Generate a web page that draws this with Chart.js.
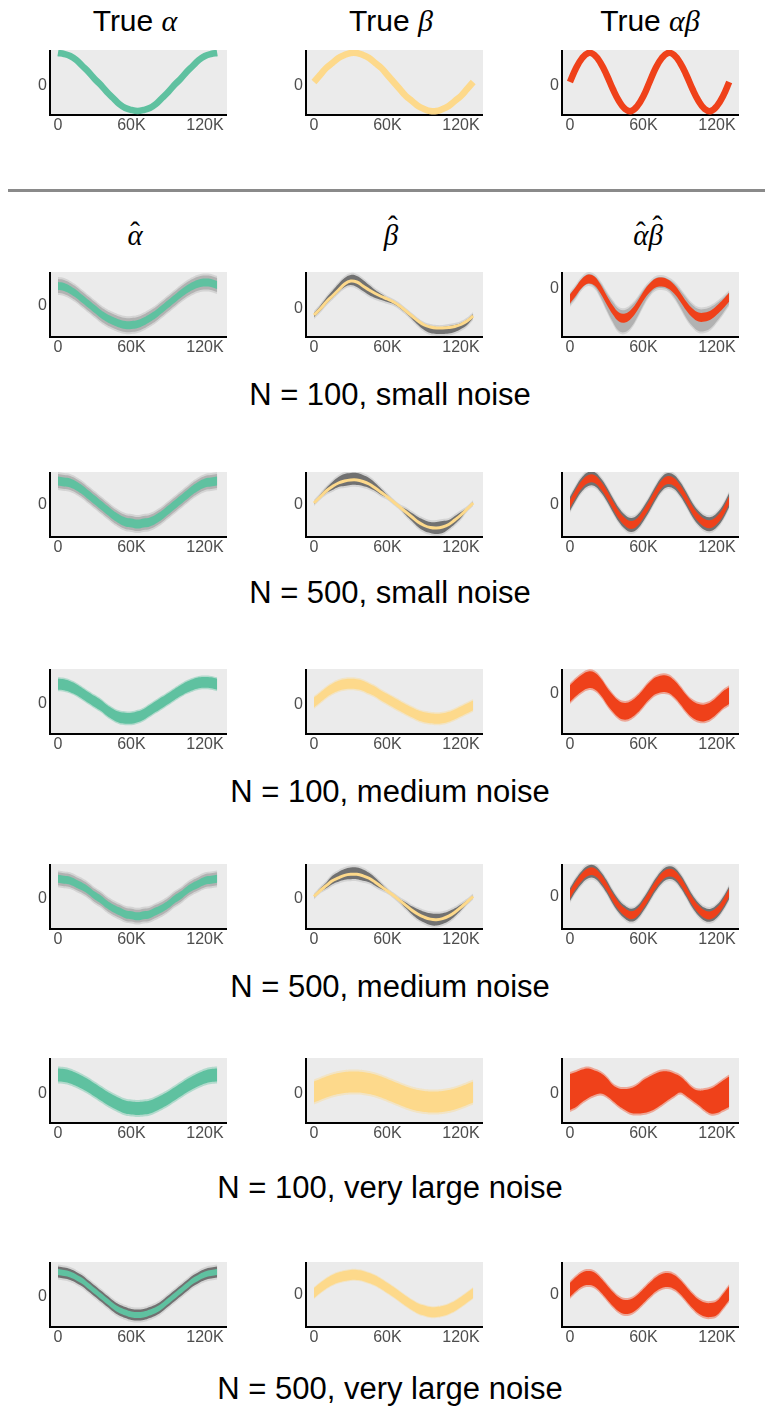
<!DOCTYPE html>
<html>
<head>
<meta charset="utf-8">
<script src="https://cdn.jsdelivr.net/npm/chart.js@4.4.1/dist/chart.umd.min.js"></script>
<style>
  body { margin: 0; background: #fff; width: 765px; height: 1407px; position: relative; overflow: hidden;
         font-family: "Liberation Sans", Arial, sans-serif; }
  canvas { position: absolute; }
  .t { position: absolute; transform: translateX(-50%); white-space: nowrap; color: #000; line-height: 30px; }
  .title { font-size: 30px; top: 6px; }
  .cap { font-size: 31px; }
  .m { font-family: "Liberation Serif", serif; font-style: italic; }
  .hat { font-family: "Liberation Serif", serif; font-style: italic; font-size: 29px; top: 221px; line-height: 28px; }
  .h { position: relative; display: inline-block; }
  .h::before { content: "\02C6"; position: absolute; left: 0; right: 0; text-align: center; top: -0.12em; font-style: normal; }
  .h.hb::before { top: -0.32em; left: 0.12em; }
  .sep { position: absolute; left: 8px; top: 189px; width: 757px; height: 3px; background: #8a8a8a; }
</style>
</head>
<body>
<div class="sep"></div>
<script>
// x positions of the samples (every 5K)
var xs = [0,5000,10000,15000,20000,25000,30000,35000,40000,45000,50000,55000,60000,65000,
          70000,75000,80000,85000,90000,95000,100000,105000,110000,115000,120000,125000,130000];
var xTicks = [0, 60000, 120000];
var xTickLabels = ['0', '60K', '120K'];

var columnTitles = ['True <span class="m">α</span>', 'True <span class="m">β</span>', 'True <span class="m">αβ</span>'];
var hatTitles = ['<span class="h">α</span>', '<span class="h hb">β</span>', '<span class="h">α</span><span class="h hb">β</span>'];
var captions = ['N = 100, small noise', 'N = 500, small noise', 'N = 100, medium noise',
                'N = 500, medium noise', 'N = 100, very large noise', 'N = 500, very large noise'];

// true curves
var trueAlpha = [31,30,28,24,18,12,5,-1,-8,-14,-20,-24,-26,-27,-26,-24,-20,-14,-8,-1,5,12,18,24,28,30,31];
var trueBeta = [2,9,16,21,26,29,31,31,29,26,21,16,9,2,-5,-12,-17,-22,-25,-27,-27,-25,-22,-17,-12,-5,2];
var trueAlphaBeta = [2,16,26,31,29,21,9,-5,-17,-25,-27,-22,-12,2,16,26,31,29,21,9,-5,-17,-25,-27,-22,-12,2];

// N = 100, small noise
var a100s = [18,17,14,10,5,0,-5,-10,-14,-17,-19.5,-21,-21,-20,-17.5,-14,-10,-5,0,5,10,14.5,18,20.5,21.5,21,19];
var b100s = [-8,-2,5,11,17,23,26,25,21,17,13.5,10.5,8,5,1,-4,-9,-14,-18,-20,-21,-21,-20.5,-19.5,-17.5,-14,-9];
var b100sHi = [-6,1,9,16,23,29,32,31,27,22,17,13,9,6,2,-3,-8,-13,-17,-19,-20,-20,-19,-18,-16,-12.5,-7];
var b100sLo = [-10,-4,3,9,15,20,22,20,16,12,9,7,5,3,-1,-6,-12,-18,-23,-26,-27,-27,-26.5,-25,-22,-18,-11];
var ab100s = [-12,-4,4,8,6,-2,-13,-23,-30,-31,-27,-19,-9,-1,4,5,3,-2,-10,-19,-26,-30,-30,-28,-23,-17,-10];
var ab100sHi = [-7,1,9,13,11,4,-6,-15,-22,-23,-19,-12,-3,4,9,10,8,4,-3,-11,-18,-22,-22,-20,-16,-11,-5];
var ab100sLo = [-18,-10,-1,3,0,-10,-23,-35,-44,-45,-40,-30,-18,-8,-2,-1,-3,-10,-20,-31,-39,-44,-44,-41,-34,-26,-17];

// N = 500, small noise
var a500s = [22,21,20,17,13,8,3,-2,-7,-12,-16,-19,-20,-21,-20,-19,-16,-12,-7,-2,3,8,13,17,20,21,22];
var b500s = [0,6,12,16.5,20,22,23,23,21.5,19,15,10.5,6,1,-4,-9,-14,-19,-22.5,-24.5,-25,-24,-21.5,-17,-12,-6,0];
var b500sHi = [1,8,15,21,26,29,30,30,28,25,20,14,8,2,-3,-6,-10,-14,-17,-19,-19,-18,-17,-13,-9,-5,1];
var b500sLo = [-1,5,10,13,16,17,18,18,17,15,12,8,5,0,-5,-12,-18,-24,-28,-30,-31,-30,-26,-21,-15,-7,-1];
var ab500s = [-1,10,19,24,24,18,9,-2,-12,-19,-22,-19,-11,-1,10,19,23,21,14,4,-7,-15,-20,-21,-17,-9,3];

// N = 100, medium noise
var a100m = [17.5,17,15,12,8,4,0,-4,-9,-13,-16,-17,-17,-15.5,-13,-9,-5,-1,3,7,11,14.5,17,19,19.5,19,17.5];
var b100m = [0,5,10,14,17,18.5,19,18.5,17,14,11,7,3.5,0,-3.5,-7,-10,-13,-15,-16,-16.5,-16,-14.5,-12,-9,-6,-3];
var ab100m = [-2,4,9,12,11,5,-4,-12,-18,-20,-18,-13,-6,1,6,8,7.5,3,-4,-12,-18,-21,-21.5,-19,-14,-8,-4];

// N = 500, medium noise
var a500m = [18,17,16,13,10,6,1,-3,-8,-12,-15,-18,-19,-20,-19,-18,-15,-12,-8,-3,1,6,10,13,16,17,18];
var b500m = [0,6,11,16,19,21.5,22.5,22.5,21,18.5,14.5,10,5.5,1,-4,-9,-14,-18,-21,-23,-23.5,-22.5,-20,-16,-11,-5.5,0];
var b500mHi = [1,8,14,21,25,28,29.5,29.5,27.5,24,19,13,7,2,-2.5,-6,-10,-13,-15.5,-17,-17.5,-17,-15,-12,-8,-4,1];
var b500mLo = [-1,5,8.5,12.5,15,17,17.5,17.5,16,14.5,11,7.5,4.5,0,-5.5,-12,-18,-23,-26.5,-29,-29.5,-28,-25,-20,-14,-7,-1];
var ab500m = [0,10,18,23,23,17,8,-3,-12,-18,-21,-18,-10,0,10,18,22,21,14,4,-7,-15,-20,-21,-17,-9,2];

// N = 100, very large noise
var a100l = [17,16.5,15,12.5,9.5,6,2,-2,-6,-9.5,-12.5,-15,-16,-16.5,-16,-15,-12.5,-9.5,-6,-2,2,6,9.5,12.5,15,16.5,17];
var b100l = [0,2.5,5,7,8.5,9.5,10,10,9.5,8.5,7,5,2.5,0,-2.5,-5,-7,-8.5,-9.5,-10,-10,-9.5,-8.5,-7,-5,-2.5,0];
var ab100lHi = [18,20,22.5,23.5,21.5,19,14,7,3.5,3,4,7,12,15.5,18.5,20.5,20.5,18.5,15.5,10,4,1.5,2,3.5,7,11.5,15.5];
var ab100lLo = [-18,-15,-10,-6,-3,-1.5,-4,-9,-14,-18,-21,-21.5,-21,-19.5,-16.5,-12.5,-8,-4,-0.5,-4,-8.5,-13,-18,-21.5,-21,-18,-15];

// N = 500, very large noise
var a500l = [23,22,20.5,17.5,14,9,4,-1,-6,-11,-15,-17.5,-19.5,-20,-19.5,-17.5,-15,-11,-6,-1,4,9,14,17.5,20.5,22,23];
var b500l = [0,5,9.5,13,15.5,17,18,18,17,15,12.5,9,5,1,-3.5,-8,-12,-15.5,-17.5,-19,-19,-18,-16,-13,-9,-4.5,0];
var ab500l = [3,9,13.5,15,13.5,8,1,-6,-11.5,-14,-13,-9,-3,3,8.5,12,13,11,6,-1,-8,-13.5,-16.5,-17,-15,-8,0];

var GREEN = '#5fc1a0', YELLOW = '#fdd98b', RED = '#ef411a';
var DARK = 'rgba(95,95,95,0.85)', LIGHT = 'rgba(150,150,150,0.55)';

var colLeft = [50, 306, 562];
var plotW = 177, plotH = 65, yW = 24, xH = 24;

var panels = [
  {col:0, top:50, yMin:-31, yMax:34, color:GREEN, line:trueAlpha, lw:6.5},
  {col:1, top:50, yMin:-31, yMax:34, color:YELLOW, line:trueBeta, lw:6.5},
  {col:2, top:50, yMin:-31, yMax:34, color:RED, line:trueAlphaBeta, lw:6.5},

  {col:0, top:272, yMin:-33, yMax:32, color:GREEN, mid:a100s, half:4, grayW:7, gray:LIGHT},
  {col:1, top:272, yMin:-30, yMax:35, color:YELLOW, line:b100s, lw:3, grayHi:b100sHi, grayLo:b100sLo, gray:DARK},
  {col:2, top:272, yMin:-50, yMax:15, color:RED, mid:ab100s, half:4.5, grayHi:ab100sHi, grayLo:ab100sLo, gray:LIGHT},

  {col:0, top:472, yMin:-34, yMax:31, color:GREEN, mid:a500s, half:4.5, grayW:7, gray:LIGHT},
  {col:1, top:472, yMin:-34, yMax:31, color:YELLOW, line:b500s, lw:3, grayHi:b500sHi, grayLo:b500sLo, gray:DARK},
  {col:2, top:472, yMin:-34, yMax:31, color:RED, mid:ab500s, half:4, grayW:7, gray:DARK},

  {col:0, top:669, yMin:-33, yMax:33, color:GREEN, mid:a100m, half:5.5, fuzz:1.5},
  {col:1, top:669, yMin:-32, yMax:34, color:YELLOW, mid:b100m, half:5, fuzz:1.5},
  {col:2, top:669, yMin:-43, yMax:23, color:RED, mid:ab100m, half:8.5, fuzz:2},

  {col:0, top:864, yMin:-33, yMax:33, color:GREEN, mid:a500m, half:4, grayW:6.5, gray:LIGHT},
  {col:1, top:864, yMin:-33, yMax:33, color:YELLOW, line:b500m, lw:3, grayHi:b500mHi, grayLo:b500mLo, gray:DARK},
  {col:2, top:864, yMin:-35, yMax:31, color:RED, mid:ab500m, half:4, grayW:6.5, gray:DARK},

  {col:0, top:1058, yMin:-31, yMax:34, color:GREEN, mid:a100l, half:6.5, fuzz:2},
  {col:1, top:1058, yMin:-31, yMax:34, color:YELLOW, mid:b100l, half:10.5, fuzz:2},
  {col:2, top:1058, yMin:-31, yMax:34, color:RED, lo:ab100lLo, hi:ab100lHi, fuzz:2},

  {col:0, top:1262, yMin:-32, yMax:33, color:GREEN, mid:a500l, half:3, grayW:5.5, gray:DARK},
  {col:1, top:1262, yMin:-34, yMax:31, color:YELLOW, mid:b500l, half:5, fuzz:1},
  {col:2, top:1262, yMin:-34, yMax:31, color:RED, mid:ab500l, half:7, fuzz:2}
];

function pts(arr) {
  return arr.map(function (v, i) { return {x: xs[i], y: v}; });
}
function shift(arr, d) {
  return arr.map(function (v) { return v + d; });
}
function bandSets(lo, hi, color) {
  return [
    {data: pts(lo), borderWidth: 0, borderColor: 'transparent', pointRadius: 0, fill: false, tension: 0.4},
    {data: pts(hi), borderWidth: 0, borderColor: 'transparent', pointRadius: 0, fill: '-1', backgroundColor: color, tension: 0.4}
  ];
}
function fade(hex, a) {
  var n = parseInt(hex.slice(1), 16);
  return 'rgba(' + (n >> 16) + ',' + ((n >> 8) & 255) + ',' + (n & 255) + ',' + a + ')';
}

// grey panel background
var panelBg = {
  id: 'panelBg',
  beforeDraw: function (chart) {
    var a = chart.chartArea, ctx = chart.ctx;
    ctx.save();
    ctx.fillStyle = '#ebebeb';
    ctx.fillRect(a.left, a.top, a.right - a.left, a.bottom - a.top);
    ctx.restore();
  }
};

function noPad(s) {
  s.paddingTop = 0; s.paddingBottom = 0; s.paddingLeft = 0; s.paddingRight = 0;
}

function makeChart(p) {
  var cv = document.createElement('canvas');
  cv.width = plotW + yW;
  cv.height = plotH + xH;
  cv.style.left = (colLeft[p.col] - yW) + 'px';
  cv.style.top = p.top + 'px';
  document.body.appendChild(cv);

  // first dataset is drawn on top
  var sets = [];
  if (p.line) {
    sets.push({data: pts(p.line), borderColor: p.color, borderWidth: p.lw, pointRadius: 0, fill: false, tension: 0.4});
  }
  var lo = p.lo, hi = p.hi;
  if (p.mid) { lo = shift(p.mid, -p.half); hi = shift(p.mid, p.half); }
  if (lo) {
    sets = sets.concat(bandSets(lo, hi, p.color));
    if (p.fuzz) sets = sets.concat(bandSets(shift(lo, -p.fuzz), shift(hi, p.fuzz), fade(p.color, 0.4)));
  }
  var gLo = p.grayLo, gHi = p.grayHi;
  if (p.grayW) { gLo = shift(p.mid, -p.grayW); gHi = shift(p.mid, p.grayW); }
  if (gLo) {
    sets = sets.concat(bandSets(gLo, gHi, p.gray));
    sets = sets.concat(bandSets(shift(gLo, -2), shift(gHi, 2), 'rgba(170,170,170,0.35)'));
  }

  var tickFont = {family: 'Liberation Sans', size: 16};
  new Chart(cv, {
    type: 'line',
    data: {datasets: sets},
    options: {
      responsive: false,
      animation: false,
      devicePixelRatio: 1,
      layout: {padding: 0},
      plugins: {legend: {display: false}, tooltip: {enabled: false}},
      scales: {
        x: {
          type: 'linear', min: -6500, max: 138000,
          grid: {display: false, drawTicks: false},
          border: {display: true, color: '#000', width: 2},
          afterBuildTicks: function (s) { s.ticks = xTicks.map(function (v) { return {value: v}; }); },
          afterFit: function (s) { s.height = xH; noPad(s); },
          ticks: {padding: 1, color: '#4d4d4d', font: tickFont, maxRotation: 0, autoSkip: false,
                  callback: function (v, i) { return xTickLabels[i]; }}
        },
        y: {
          min: p.yMin, max: p.yMax,
          grid: {display: false, drawTicks: false},
          border: {display: true, color: '#000', width: 2},
          afterBuildTicks: function (s) { s.ticks = [{value: 0}]; },
          afterFit: function (s) { s.width = yW; noPad(s); },
          ticks: {padding: 3, labelOffset: 2, color: '#4d4d4d', font: tickFont, callback: function () { return '0'; }}
        }
      }
    },
    plugins: [panelBg]
  });
}

panels.forEach(makeChart);

// text
var titleX = [135, 391, 650];
var hatX = [135, 391, 648];
function addText(cls, html, x, top) {
  var d = document.createElement('div');
  d.className = 't ' + cls;
  d.innerHTML = html;
  d.style.left = x + 'px';
  if (top !== undefined) d.style.top = top + 'px';
  document.body.appendChild(d);
}
columnTitles.forEach(function (h, i) { addText('title', h, titleX[i]); });
hatTitles.forEach(function (h, i) { addText('hat', h, hatX[i]); });
var capTop = [380, 578, 777, 972, 1173, 1374];
captions.forEach(function (c, i) { addText('cap', c, 390, capTop[i]); });
</script>
</body>
</html>
